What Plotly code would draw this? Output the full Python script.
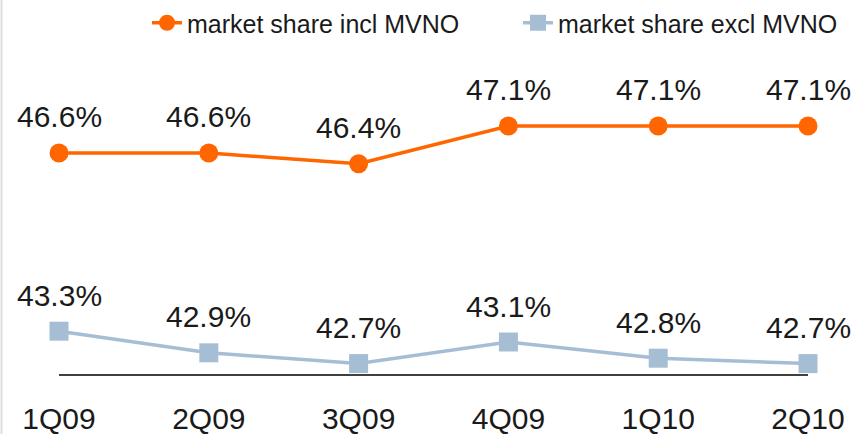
import plotly.graph_objects as go

quarters = ["1Q09", "2Q09", "3Q09", "4Q09", "1Q10", "2Q10"]
incl_mvno = [46.6, 46.6, 46.4, 47.1, 47.1, 47.1]
excl_mvno = [43.3, 42.9, 42.7, 43.1, 42.8, 42.7]
series_names = ["market share incl MVNO", "market share excl MVNO"]

ORANGE = "#FF6600"
BLUE = "#A6BED4"
TEXT = "#1a1a1a"
FONT = "Liberation Sans, Arial, sans-serif"

fig = go.Figure()
fig.add_trace(go.Scatter(
    x=quarters, y=incl_mvno, name=series_names[0], mode="lines+markers",
    line=dict(color=ORANGE, width=3.5),
    marker=dict(symbol="circle", size=19, color=ORANGE),
    legend="legend",
))
fig.add_trace(go.Scatter(
    x=quarters, y=excl_mvno, name=series_names[1], mode="lines+markers",
    line=dict(color=BLUE, width=3.5),
    marker=dict(symbol="square", size=19, color=BLUE),
    legend="legend2",
))

annotations = []
for series in (incl_mvno, excl_mvno):
    for q, v in zip(quarters, series):
        annotations.append(dict(
            x=q, y=v, text=f"{v:.1f}%", showarrow=False,
            xanchor="center", yanchor="middle", yshift=36,
            font=dict(family=FONT, size=30, color=TEXT),
        ))

W, H = 857, 434
legend_common = dict(
    orientation="h", xanchor="left", y=1.0, yanchor="top",
    font=dict(family=FONT, size=25, color=TEXT),
    bgcolor="rgba(0,0,0,0)",
)
fig.update_layout(
    width=W, height=H,
    margin=dict(l=0, r=0, t=0, b=38),
    paper_bgcolor="white", plot_bgcolor="white",
    font=dict(family=FONT, color=TEXT),
    showlegend=True,
    legend=dict(x=147 / W, **legend_common),
    legend2=dict(x=518 / W, **legend_common),
    xaxis=dict(
        type="category", range=[-0.394, 5.327],
        showgrid=False, zeroline=False, showline=False, ticks="",
        tickfont=dict(family=FONT, size=30, color=TEXT),
        ticklabelstandoff=2,
        fixedrange=True,
    ),
    yaxis=dict(
        range=[42.1, 49.433], visible=False, showgrid=False, zeroline=False,
        fixedrange=True,
    ),
    annotations=annotations,
    shapes=[
        dict(type="line", xref="x", yref="y", x0=0, x1=len(quarters) - 1,
             y0=42.49, y1=42.49, line=dict(color="black", width=1.5), layer="below"),
        dict(type="line", xref="paper", yref="paper", x0=1.5 / W, x1=1.5 / W,
             y0=-38 / 396, y1=1, line=dict(color="#dddddd", width=2)),
    ],
)

fig.write_html(
    "out.html",
    config={"displayModeBar": False},
    post_script="document.body.style.margin='0';document.body.style.padding='0';",
)
